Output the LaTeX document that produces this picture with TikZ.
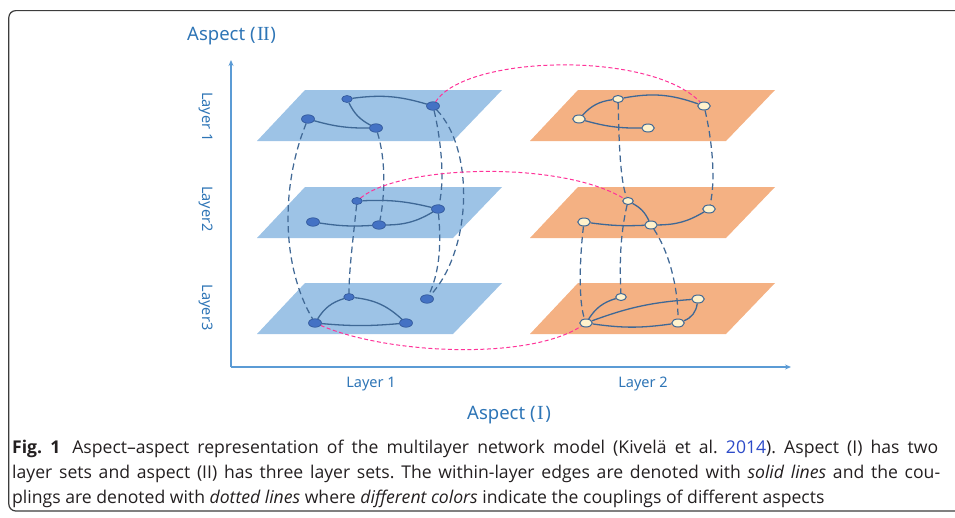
\documentclass[tikz,border=0pt]{standalone}
\usepackage{fontspec}
\setmainfont{Open Sans}
\newfontfamily\labfont{Noto Sans}
\newfontfamily\romfont{Liberation Serif}
\usetikzlibrary{shapes.geometric,arrows.meta}
\definecolor{planeblue}{RGB}{157,195,230}
\definecolor{planeorange}{RGB}{244,177,131}
\definecolor{nodeblue}{RGB}{68,114,196}
\definecolor{nodeblueline}{RGB}{47,85,151}
\definecolor{nodecream}{RGB}{255,242,204}
\definecolor{edgeblue}{RGB}{62,104,150}
\definecolor{couplecol}{RGB}{65,105,150}
\definecolor{pinkc}{RGB}{255,51,153}
\definecolor{axiscol}{RGB}{91,155,213}
\definecolor{labcol}{RGB}{46,117,182}
\definecolor{captext}{RGB}{35,31,32}
\definecolor{linkblue}{RGB}{45,75,200}
\definecolor{framecol}{RGB}{60,60,60}
\pgfdeclarelayer{bg}
\pgfdeclarelayer{mid}
\pgfsetlayers{bg,mid,main}
\frenchspacing
\begin{document}
\begin{tikzpicture}[x=1pt,y=-1pt,
  bnode/.style={ellipse, draw=nodeblueline, fill=nodeblue, line width=0.6pt, inner sep=0pt, minimum width=13pt, minimum height=8.5pt},
  onode/.style={ellipse, draw=edgeblue, fill=nodecream, line width=1pt, inner sep=0pt, minimum width=12.5pt, minimum height=8pt},
  small/.style={minimum width=10.5pt, minimum height=7pt},
  edge/.style={draw=edgeblue, line width=1.3pt},
  couple/.style={draw=couplecol, line width=1.25pt, dash pattern=on 6.5pt off 4pt},
  pinkline/.style={draw=pinkc, line width=1pt, dash pattern=on 4pt off 2.5pt},
  planeB/.style={fill=planeblue},
  planeO/.style={fill=planeorange},
  axis/.style={draw=axiscol, line width=1.4pt},
  lab/.style={text=labcol, font=\labfont\fontsize{14.5}{16}\selectfont, inner sep=0pt},
  biglab/.style={text=labcol, font=\labfont\fontsize{18.5}{20}\selectfont, inner sep=0pt},
  capline/.style={text=captext, font=\fontsize{17.6}{20}\selectfont, inner sep=0pt, anchor=base west}
]
\useasboundingbox (0,0) rectangle (955,517);
\clip (0,0) rectangle (955,517);
% frame
\draw[framecol, line width=1.2pt, rounded corners=7pt] (8.8,10.6) rectangle (980,511);

% planes
\begin{pgfonlayer}{bg}
\fill[planeB] (305,90) -- (502,90) -- (453,141) -- (257,141) -- cycle;
\fill[planeO] (578,90) -- (775,90) -- (726,141) -- (530,141) -- cycle;
\fill[planeB] (305,187) -- (502,187) -- (453,238) -- (257,238) -- cycle;
\fill[planeO] (578,187) -- (775,187) -- (726,238) -- (530,238) -- cycle;
\fill[planeB] (305,283) -- (502,283) -- (453,334) -- (257,334) -- cycle;
\fill[planeO] (578,283) -- (775,283) -- (726,334) -- (530,334) -- cycle;
\end{pgfonlayer}

% axes
\coordinate (O) at (231,367);
\coordinate (ytip) at (231,60);
\coordinate (xtip) at (791,367);
\draw[axis, -{Stealth[length=6pt,width=5pt]}] (O) -- (ytip);
\draw[axis, -{Stealth[length=6pt,width=5pt]}] (O) -- (xtip);

% labels
\node[biglab, anchor=base west] (asp2) at (187,40.7) {Aspect (\kern1.5pt{\romfont\fontsize{20}{20}\selectfont I\kern-0.6pt I}\kern0.5pt)};
\node[biglab, anchor=base west] (asp1) at (467,419.5) {Aspect (\kern1.5pt{\romfont\fontsize{20}{20}\selectfont I}\kern1.5pt)};
\node[lab, rotate=-90] (ly1) at (205.7,116.7) {Layer 1};
\node[lab, rotate=-90] (ly2) at (205.7,209) {Layer2};
\node[lab, rotate=-90] (ly3) at (205.7,307.5) {Layer3};
\node[lab, anchor=base] (lx1) at (371,387.5) {Layer 1};
\node[lab, anchor=base] (lx2) at (643,387.5) {Layer 2};

% nodes plane row 1
\node[bnode, small] (A) at (347,99) {};
\node[bnode] (B) at (308,119) {};
\node[bnode] (C) at (376,128) {};
\node[bnode] (D) at (433,106) {};
\node[onode, small] (E) at (618,99) {};
\node[onode] (F) at (579,119) {};
\node[onode] (G) at (648,128) {};
\node[onode] (H) at (704,106) {};
% row 2
\node[bnode, small] (I) at (357,201) {};
\node[bnode] (J) at (313,222) {};
\node[bnode] (K) at (379,225) {};
\node[bnode] (L) at (438,209) {};
\node[onode, small] (M) at (628,201) {};
\node[onode] (N) at (584,222) {};
\node[onode] (O2) at (651,225) {};
\node[onode] (P) at (709,209) {};
% row 3
\node[bnode, small] (Q) at (349,297) {};
\node[bnode] (R) at (315,323) {};
\node[bnode] (S) at (406,323) {};
\node[bnode] (T) at (427,299) {};
\node[onode, small] (U) at (621,297) {};
\node[onode] (V) at (586,323) {};
\node[onode] (W) at (678,323) {};
\node[onode] (X) at (698,299) {};

\begin{pgfonlayer}{mid}
% within-layer edges
\draw[edge] (A) to[bend left=12] (D);
\draw[edge] (A) to[bend right=18] (C);
\draw[edge] (B) to[bend right=8] (C);
\draw[edge] (F) to[bend left=20] (E);
\draw[edge] (E) to[bend left=15] (H);
\draw[edge] (F) to[bend right=8] (G);
\draw[edge] (I) to[bend left=8] (L);
\draw[edge] (J) to[bend right=6] (K);
\draw[edge] (K) to[bend right=15] (L);
\draw[edge] (M) to[bend left=18] (O2);
\draw[edge] (N) to[bend right=5] (O2);
\draw[edge] (O2) to[bend right=15] (P);
\draw[edge] (R) to[bend left=20] (Q);
\draw[edge] (Q) to[bend left=18] (S);
\draw[edge] (R) to[bend right=5] (S);
\draw[edge] (V) to[bend left=20] (U);
\draw[edge] (V) to[bend left=8] (X);
\draw[edge] (V) to[bend right=8] (W);
\draw[edge] (W) to[bend right=30] (X);

% couplings (same aspect I layer, across aspect II)
\draw[couple] (B) .. controls (281,185) and (281,265) .. (R);
\draw[couple] (C) .. controls (386,160) and (385,195) .. (K);
\draw[couple] (D) .. controls (441,140) and (445,180) .. (L);
\draw[couple] (D) .. controls (475,150) and (472,250) .. (T);
\draw[couple] (I) .. controls (353,240) and (349,270) .. (Q);
\draw[couple] (L) .. controls (442,250) and (438,275) .. (T);
\draw[couple] (E) .. controls (619,140) and (620,180) .. (M);
\draw[couple] (M) .. controls (619,240) and (620,270) .. (U);
\draw[couple] (H) .. controls (712,140) and (716,180) .. (P);
\draw[couple] (N) .. controls (580,255) and (578,300) .. (V);
\draw[couple] (O2) .. controls (668,250) and (678,285) .. (W);

% couplings across aspect I
\draw[pinkline] (D) .. controls (465,55) and (650,50) .. (H);
\draw[pinkline] (I) .. controls (400,165) and (560,160) .. (M);
\draw[pinkline] (R) .. controls (390,355) and (530,360) .. (V);
\end{pgfonlayer}

% caption
\node[capline] (cap1) at (12,453) {\makebox[926pt][s]{\textbf{Fig.~1}\hspace{12pt}Aspect--aspect representation of the multilayer network model (Kivelä et al. \textcolor{linkblue}{2014}). Aspect (I) has two}};
\node[capline] (cap2) at (12,478) {\makebox[928pt][s]{layer sets and aspect (II) has three layer sets. The within-layer edges are denoted with \textit{solid lines} and the cou-}};
\node[capline] (cap3) at (12,503) {plings are denoted with \textit{dotted lines} where \textit{different colors} indicate the couplings of different aspects};
\end{tikzpicture}
\end{document}
